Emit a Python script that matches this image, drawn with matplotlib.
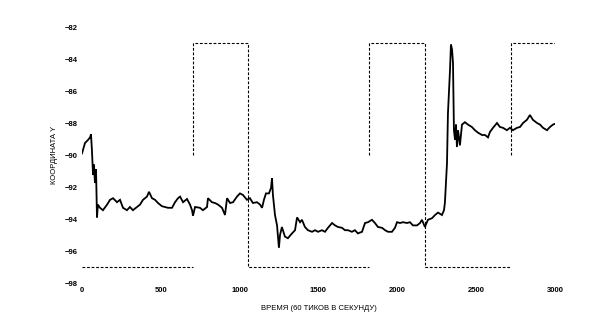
import numpy as np
import matplotlib
matplotlib.use("Agg")
import matplotlib.pyplot as plt

# Response (solid line): time in ticks, Y coordinate
t = [0, 19, 38, 51, 57, 63, 70, 76, 82, 89, 95, 101, 114, 133, 159, 178, 197, 222, 241, 260,
     285, 304, 323, 349, 368, 387, 412, 425, 444, 463, 482, 507, 526, 545, 571, 590, 609, 622,
     641, 666, 685, 698, 704, 717, 748, 767, 793, 799, 824, 843, 863, 888, 907, 920, 939, 958,
     983, 1002, 1021, 1046, 1065, 1084, 1110, 1129, 1142, 1154, 1167, 1186, 1199, 1205, 1211,
     1224, 1237, 1249, 1256, 1268, 1287, 1306, 1332, 1351, 1364, 1383, 1395, 1414, 1433, 1459,
     1478, 1497, 1522, 1541, 1560, 1586, 1605, 1624, 1649, 1668, 1687, 1712, 1731, 1750, 1776,
     1795, 1814, 1839, 1858, 1877, 1903, 1922, 1941, 1966, 1985, 1998, 2017, 2036, 2061, 2080,
     2099, 2125, 2144, 2156, 2175, 2194, 2220, 2239, 2258, 2283, 2296, 2302, 2315, 2321, 2334,
     2340, 2347, 2353, 2359, 2366, 2372, 2378, 2385, 2397, 2410, 2429, 2448, 2473, 2492, 2511,
     2537, 2556, 2575, 2588, 2607, 2632, 2651, 2670, 2695, 2714, 2733, 2759, 2778, 2797, 2822,
     2841, 2860, 2886, 2905, 2924, 2949, 2968, 2987, 3000]
y = [-89.9, -89.25, -89.06, -88.9, -88.7, -89.7, -91.25, -90.6, -91.75, -90.9, -93.9, -93.1,
     -93.3, -93.45, -93.1, -92.8, -92.7, -92.95, -92.8, -93.3, -93.45, -93.25, -93.45, -93.25,
     -93.1, -92.8, -92.6, -92.3, -92.7, -92.8, -93.0, -93.2, -93.25, -93.3, -93.3, -92.95,
     -92.7, -92.6, -92.95, -92.75, -93.1, -93.45, -93.8, -93.25, -93.3, -93.45, -93.25, -92.7,
     -92.95, -93.0, -93.1, -93.3, -93.75, -92.7, -93.0, -92.95, -92.6, -92.4, -92.5, -92.8,
     -92.7, -93.0, -92.95, -93.1, -93.3, -92.8, -92.4, -92.4, -92.05, -91.45, -92.5, -93.75,
     -94.4, -95.8, -95.0, -94.5, -95.1, -95.2, -94.9, -94.7, -93.9, -94.2, -94.05, -94.5,
     -94.7, -94.8, -94.7, -94.8, -94.7, -94.8, -94.55, -94.25, -94.4, -94.5, -94.55, -94.7,
     -94.7, -94.8, -94.7, -94.9, -94.8, -94.25, -94.2, -94.05, -94.25, -94.5, -94.55, -94.7,
     -94.8, -94.8, -94.55, -94.2, -94.25, -94.2, -94.25, -94.2, -94.4, -94.4, -94.25, -94.05,
     -94.5, -94.05, -93.95, -93.75, -93.6, -93.75, -93.45, -92.95, -90.5, -87.4, -84.7, -83.1,
     -83.4, -84.25, -88.45, -89.05, -88.1, -89.5, -88.45, -89.4, -88.1, -87.95, -88.1, -88.25,
     -88.45, -88.6, -88.75, -88.75, -88.9, -88.55, -88.3, -88.0, -88.25, -88.3, -88.45, -88.3,
     -88.45, -88.3, -88.25, -88.0, -87.8, -87.5, -87.8, -88.0, -88.1, -88.3, -88.45, -88.25,
     -88.1, -88.05]

# Target (dashed line), segments separated by NaN gaps
target_t = [0, 704, np.nan, 704, 704, 1053, 1053, 1820, np.nan, 1820, 1820, 2175, 2175, 2720,
            np.nan, 2720, 2720, 3000]
target_y = [-97, -97, np.nan, -90, -83, -83, -97, -97, np.nan, -90, -83, -83, -97, -97,
            np.nan, -90, -83, -83]

x_ticks = [0, 500, 1000, 1500, 2000, 2500, 3000]
y_ticks = [-82, -84, -86, -88, -90, -92, -94, -96, -98]
x_label = "ВРЕМЯ (60 ТИКОВ В СЕКУНДУ)"
y_label = "КООРДИНАТА Y"

plt.rcParams['font.family'] = ['Liberation Sans', 'DejaVu Sans']

fig = plt.figure(figsize=(6.16, 3.22), dpi=100)
ax = fig.add_axes([82 / 616, 1 - 283 / 322, (555 - 82) / 616, (283 - 27) / 322])

ax.plot(target_t, target_y, color='black', lw=0.8, linestyle=(0, (2.5, 1.6)))
ax.plot(t, y, color='black', lw=1.3, solid_joinstyle='miter')

ax.set_xlim(0, 3000)
ax.set_ylim(-98, -82)
ax.set_xticks(x_ticks)
ax.set_yticks(y_ticks)
ax.tick_params(length=0, labelsize=5.5, pad=3)
for lab in ax.get_xticklabels() + ax.get_yticklabels():
    lab.set_fontweight('bold')
for s in ax.spines.values():
    s.set_visible(False)
ax.set_xlabel(x_label, fontsize=5.5, labelpad=8)
ax.set_ylabel(y_label, fontsize=5.5, labelpad=5)

fig.savefig("out.png", dpi=100)
